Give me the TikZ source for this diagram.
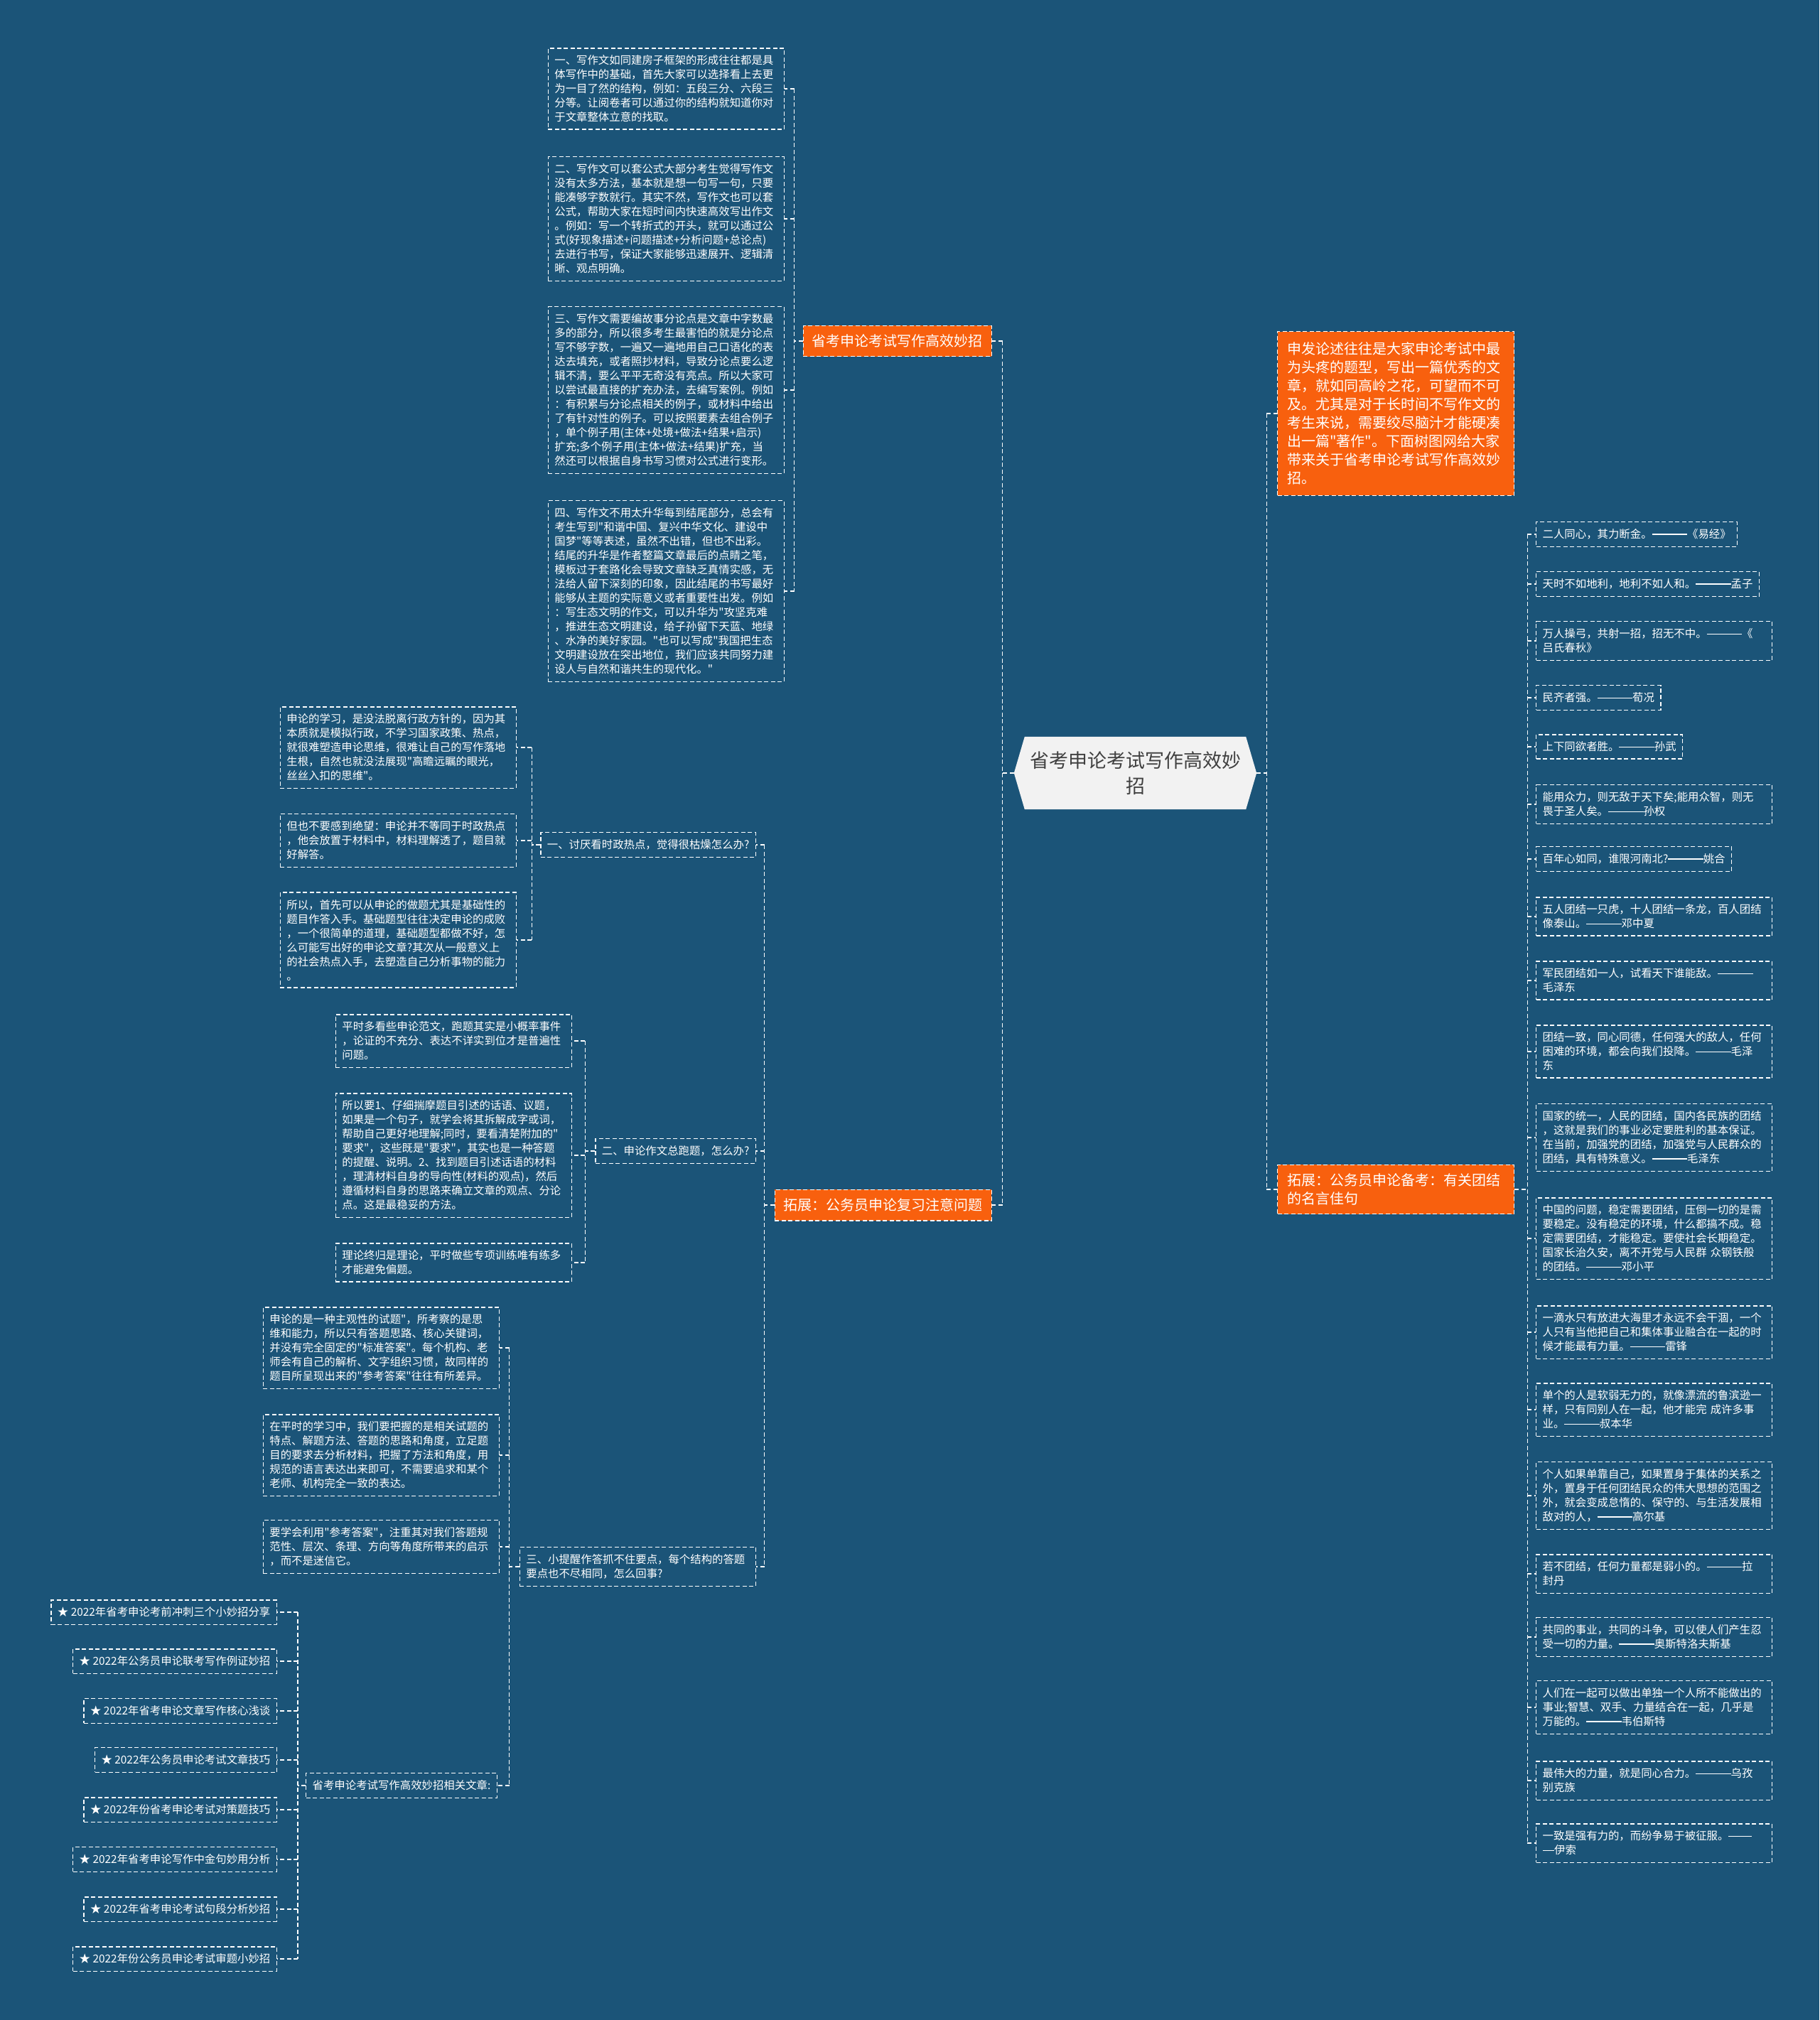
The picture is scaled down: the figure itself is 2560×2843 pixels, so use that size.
\documentclass[tikz,border=0pt]{standalone}
\usepackage{fontspec}
\setmainfont{Noto Sans CJK SC}[Ligatures=TeXOff]
\usetikzlibrary{calc,backgrounds}
\definecolor{bg}{HTML}{1B5478}
\definecolor{org}{HTML}{F8600E}
\definecolor{cfill}{HTML}{F2F2F2}
\definecolor{ctext}{HTML}{404040}
\newcommand\emd{\rule[0.33em]{1.07em}{0.08em}}
\tikzset{
 dl/.style={draw=white, line width=1.3pt, dash pattern=on 6pt off 3.5pt},
 conn/.style={draw=white, line width=1.3pt, dash pattern=on 6pt off 3.5pt},
 para/.style={dl, text=white, font=\fontsize{15.4}{20}\selectfont, align=left, text width=314pt, inner xsep=9pt, inner ysep=10pt},
 one/.style={dl, text=white, font=\fontsize{15.4}{20}\selectfont, inner xsep=9pt, inner ysep=10pt},
 obox/.style={dl, fill=org, text=white, font=\fontsize{20}{26}\selectfont, inner xsep=12.5pt, inner ysep=12.5pt},
 obig/.style={obox, align=left, text width=306pt, inner xsep=13.5pt},
 hub/.style={text=ctext, font=\fontsize{27}{36}\selectfont, align=center, minimum width=341pt, minimum height=102pt, inner sep=0pt},
}
\begin{document}
\begin{tikzpicture}[x=1pt,y=-1pt]
\useasboundingbox (0,0) rectangle (2560,2843);

% center
\node[hub] (c) at (1597.5,1088) {省考申论考试写作高效妙\\招};
\begin{scope}[on background layer]
\fill[bg] (0,0) rectangle (2560,2843);
\fill[cfill] (c.west) -- ($(c.north west)+(15,0)$) -- ($(c.north east)+(-15,0)$) -- (c.east) -- ($(c.south east)+(-15,0)$) -- ($(c.south west)+(15,0)$) -- cycle;
\end{scope}

% main branches
\node[obox, anchor=east] (o1) at (1396,480) {省考申论考试写作高效妙招};
\node[obox, anchor=east] (o2) at (1396,1696) {拓展：公务员申论复习注意问题};
\node[obig, inner ysep=15pt, anchor=west] (o3) at (1797,582) {申发论述往往是大家申论考试中最\\为头疼的题型，写出一篇优秀的文\\章，就如同高岭之花，可望而不可\\及。尤其是对于长时间不写作文的\\考生来说，需要绞尽脑汁才能硬凑\\出一篇"著作"。下面树图网给大家\\带来关于省考申论考试写作高效妙\\招。};
\node[obig, anchor=west] (o4) at (1797,1674) {拓展：公务员申论备考：有关团结\\的名言佳句};

% branch 1 children
\node[para, anchor=east] (a1) at (1104,125) {一、写作文如同建房子框架的形成往往都是具\\体写作中的基础，首先大家可以选择看上去更\\为一目了然的结构，例如：五段三分、六段三\\分等。让阅卷者可以通过你的结构就知道你对\\于文章整体立意的找取。};
\node[para, anchor=east] (a2) at (1104,308) {二、写作文可以套公式大部分考生觉得写作文\\没有太多方法，基本就是想一句写一句，只要\\能凑够字数就行。其实不然，写作文也可以套\\公式，帮助大家在短时间内快速高效写出作文\\。例如：写一个转折式的开头，就可以通过公\\式(好现象描述+问题描述+分析问题+总论点)\\去进行书写，保证大家能够迅速展开、逻辑清\\晰、观点明确。};
\node[para, anchor=east] (a3) at (1104,549) {三、写作文需要编故事分论点是文章中字数最\\多的部分，所以很多考生最害怕的就是分论点\\写不够字数，一遍又一遍地用自己口语化的表\\达去填充，或者照抄材料，导致分论点要么逻\\辑不清，要么平平无奇没有亮点。所以大家可\\以尝试最直接的扩充办法，去编写案例。例如\\：有积累与分论点相关的例子，或材料中给出\\了有针对性的例子。可以按照要素去组合例子\\，单个例子用(主体+处境+做法+结果+启示)\\扩充;多个例子用(主体+做法+结果)扩充，当\\然还可以根据自身书写习惯对公式进行变形。};
\node[para, anchor=east] (a4) at (1104,832) {四、写作文不用太升华每到结尾部分，总会有\\考生写到"和谐中国、复兴中华文化、建设中\\国梦"等等表述，虽然不出错，但也不出彩。\\结尾的升华是作者整篇文章最后的点睛之笔，\\模板过于套路化会导致文章缺乏真情实感，无\\法给人留下深刻的印象，因此结尾的书写最好\\能够从主题的实际意义或者重要性出发。例如\\：写生态文明的作文，可以升华为"攻坚克难\\，推进生态文明建设，给子孙留下天蓝、地绿\\、水净的美好家园。"也可以写成"我国把生态\\文明建设放在突出地位，我们应该共同努力建\\设人与自然和谐共生的现代化。"};

% branch 2 questions
\node[one, anchor=east] (q1) at (1064,1189) {一、讨厌看时政热点，觉得很枯燥怎么办?};
\node[one, anchor=east] (q2) at (1064,1620) {二、申论作文总跑题，怎么办?};
\node[para, anchor=east] (q3) at (1064,2205) {三、小提醒作答抓不住要点，每个结构的答题\\要点也不尽相同，怎么回事?};

\node[para, anchor=east] (c11) at (727,1052) {申论的学习，是没法脱离行政方针的，因为其\\本质就是模拟行政，不学习国家政策、热点，\\就很难塑造申论思维，很难让自己的写作落地\\生根，自然也就没法展现"高瞻远瞩的眼光，\\丝丝入扣的思维"。};
\node[para, anchor=east] (c12) at (727,1183) {但也不要感到绝望：申论并不等同于时政热点\\，他会放置于材料中，材料理解透了，题目就\\好解答。};
\node[para, anchor=east] (c13) at (727,1323) {所以，首先可以从申论的做题尤其是基础性的\\题目作答入手。基础题型往往决定申论的成败\\，一个很简单的道理，基础题型都做不好，怎\\么可能写出好的申论文章?其次从一般意义上\\的社会热点入手，去塑造自己分析事物的能力\\。};

\node[para, anchor=east] (c21) at (805,1465) {平时多看些申论范文，跑题其实是小概率事件\\，论证的不充分、表达不详实到位才是普遍性\\问题。};
\node[para, anchor=east] (c22) at (805,1626) {所以要1、仔细揣摩题目引述的话语、议题，\\如果是一个句子，就学会将其拆解成字或词，\\帮助自己更好地理解;同时，要看清楚附加的"\\要求"，这些既是"要求"，其实也是一种答题\\的提醒、说明。2、找到题目引述话语的材料\\，理清材料自身的导向性(材料的观点)，然后\\遵循材料自身的思路来确立文章的观点、分论\\点。这是最稳妥的方法。};
\node[para, anchor=east] (c23) at (805,1777) {理论终归是理论，平时做些专项训练唯有练多\\才能避免偏题。};

\node[para, anchor=east] (c31) at (703,1897) {申论的是一种主观性的试题"，所考察的是思\\维和能力，所以只有答题思路、核心关键词，\\并没有完全固定的"标准答案"。每个机构、老\\师会有自己的解析、文字组织习惯，故同样的\\题目所呈现出来的"参考答案"往往有所差异。};
\node[para, anchor=east] (c32) at (703,2048) {在平时的学习中，我们要把握的是相关试题的\\特点、解题方法、答题的思路和角度，立足题\\目的要求去分析材料，把握了方法和角度，用\\规范的语言表达出来即可，不需要追求和某个\\老师、机构完全一致的表达。};
\node[para, anchor=east] (c33) at (703,2177) {要学会利用"参考答案"，注重其对我们答题规\\范性、层次、条理、方向等角度所带来的启示\\，而不是迷信它。};
\node[one, anchor=east] (q4) at (700,2513) {省考申论考试写作高效妙招相关文章:};

\node[one, anchor=east] (s1) at (390,2269) {★ 2022年省考申论考前冲刺三个小妙招分享};
\node[one, anchor=east] (s2) at (390,2338) {★ 2022年公务员申论联考写作例证妙招};
\node[one, anchor=east] (s3) at (390,2408) {★ 2022年省考申论文章写作核心浅谈};
\node[one, anchor=east] (s4) at (390,2477) {★ 2022年公务员申论考试文章技巧};
\node[one, anchor=east] (s5) at (390,2547) {★ 2022年份省考申论考试对策题技巧};
\node[one, anchor=east] (s6) at (390,2617) {★ 2022年省考申论写作中金句妙用分析};
\node[one, anchor=east] (s7) at (390,2687) {★ 2022年省考申论考试句段分析妙招};
\node[one, anchor=east] (s8) at (390,2757) {★ 2022年份公务员申论考试审题小妙招};

% quotes
\node[one, anchor=west] (r1) at (2161,752) {二人同心，其力断金。\emd\emd\emd《易经》};
\node[one, anchor=west] (r2) at (2161,822) {天时不如地利，地利不如人和。\emd\emd\emd 孟子};
\node[para, anchor=west] (r3) at (2161,902) {万人操弓，共射一招，招无不中。\emd\emd\emd《\\吕氏春秋》};
\node[one, anchor=west] (r4) at (2161,982) {民齐者强。\emd\emd\emd 荀况};
\node[one, anchor=west] (r5) at (2161,1051) {上下同欲者胜。\emd\emd\emd 孙武};
\node[para, anchor=west] (r6) at (2161,1132) {能用众力，则无敌于天下矣;能用众智，则无\\畏于圣人矣。\emd\emd\emd 孙权};
\node[one, anchor=west] (r7) at (2161,1209) {百年心如同，谁限河南北?\emd\emd\emd 姚合};
\node[para, anchor=west] (r8) at (2161,1290) {五人团结一只虎，十人团结一条龙，百人团结\\像泰山。\emd\emd\emd 邓中夏};
\node[para, anchor=west] (r9) at (2161,1380) {军民团结如一人，试看天下谁能敌。\emd\emd\emd\\毛泽东};
\node[para, anchor=west] (r10) at (2161,1480) {团结一致，同心同德，任何强大的敌人，任何\\困难的环境，都会向我们投降。\emd\emd\emd 毛泽\\东};
\node[para, anchor=west] (r11) at (2161,1601) {国家的统一，人民的团结，国内各民族的团结\\，这就是我们的事业必定要胜利的基本保证。\\在当前，加强党的团结，加强党与人民群众的\\团结，具有特殊意义。\emd\emd\emd 毛泽东};
\node[para, anchor=west] (r12) at (2161,1743) {中国的问题，稳定需要团结，压倒一切的是需\\要稳定。没有稳定的环境，什么都搞不成。稳\\定需要团结，才能稳定。要使社会长期稳定。\\国家长治久安，离不开党与人民群 众钢铁般\\的团结。\emd\emd\emd 邓小平};
\node[para, anchor=west] (r13) at (2161,1875) {一滴水只有放进大海里才永远不会干涸，一个\\人只有当他把自己和集体事业融合在一起的时\\候才能最有力量。\emd\emd\emd 雷锋};
\node[para, anchor=west] (r14) at (2161,1984) {单个的人是软弱无力的，就像漂流的鲁滨逊一\\样，只有同别人在一起，他才能完 成许多事\\业。\emd\emd\emd 叔本华};
\node[para, anchor=west] (r15) at (2161,2105) {个人如果单靠自己，如果置身于集体的关系之\\外，置身于任何团结民众的伟大思想的范围之\\外，就会变成怠惰的、保守的、与生活发展相\\敌对的人，\emd\emd\emd 高尔基};
\node[para, anchor=west] (r16) at (2161,2215) {若不团结，任何力量都是弱小的。\emd\emd\emd 拉\\封丹};
\node[para, anchor=west] (r17) at (2161,2304) {共同的事业，共同的斗争，可以使人们产生忍\\受一切的力量。\emd\emd\emd 奥斯特洛夫斯基};
\node[para, anchor=west] (r18) at (2161,2403) {人们在一起可以做出单独一个人所不能做出的\\事业;智慧、双手、力量结合在一起，几乎是\\万能的。\emd\emd\emd 韦伯斯特};
\node[para, anchor=west] (r19) at (2161,2506) {最伟大的力量，就是同心合力。\emd\emd\emd 乌孜\\别克族};
\node[para, anchor=west] (r20) at (2161,2594) {一致是强有力的，而纷争易于被征服。\emd\emd\\\emd 伊索};

% connectors: center left
\draw[conn] (c.west) -- ++(-16,0) coordinate (tl);
\draw[conn] (tl |- o1.east) -- (tl |- o2.east);
\foreach \n in {o1,o2} \draw[conn] (tl |- \n.east) -- (\n.east);
% center right
\draw[conn] (c.east) -- ++(14,0) coordinate (tr);
\draw[conn] (tr |- o3.west) -- (tr |- o4.west);
\foreach \n in {o3,o4} \draw[conn] (tr |- \n.west) -- (\n.west);
% branch 1
\draw[conn] (o1.west) -- ++(-12,0) coordinate (t1);
\draw[conn] (t1 |- a1.east) -- (t1 |- a4.east);
\foreach \n in {a1,a2,a3,a4} \draw[conn] (t1 |- \n.east) -- (\n.east);
% branch 2
\draw[conn] (o2.west) -- ++(-14,0) coordinate (t2);
\draw[conn] (t2 |- q1.east) -- (t2 |- q3.east);
\foreach \n in {q1,q2,q3} \draw[conn] (t2 |- \n.east) -- (\n.east);
% q1
\draw[conn] (q1.west) -- ++(-12,0) coordinate (tq1);
\draw[conn] (tq1 |- c11.east) -- (tq1 |- c13.east);
\foreach \n in {c11,c12,c13} \draw[conn] (tq1 |- \n.east) -- (\n.east);
% q2
\draw[conn] (q2.west) -- ++(-14,0) coordinate (tq2);
\draw[conn] (tq2 |- c21.east) -- (tq2 |- c23.east);
\foreach \n in {c21,c22,c23} \draw[conn] (tq2 |- \n.east) -- (\n.east);
% q3
\draw[conn] (q3.west) -- ++(-14,0) coordinate (tq3);
\draw[conn] (tq3 |- c31.east) -- (tq3 |- q4.east);
\foreach \n in {c31,c32,c33,q4} \draw[conn] (tq3 |- \n.east) -- (\n.east);
% q4
\draw[conn] (q4.west) -- ++(-11,0) coordinate (tq4);
\draw[conn] (tq4 |- s1.east) -- (tq4 |- s8.east);
\foreach \n in {s1,s2,s3,s4,s5,s6,s7,s8} \draw[conn] (tq4 |- \n.east) -- (\n.east);
% quotes
\draw[conn] (o4.east) -- ++(18,0) coordinate (t4);
\draw[conn] (t4 |- r1.west) -- (t4 |- r20.west);
\foreach \n in {r1,r2,r3,r4,r5,r6,r7,r8,r9,r10,r11,r12,r13,r14,r15,r16,r17,r18,r19,r20} \draw[conn] (t4 |- \n.west) -- (\n.west);
\end{tikzpicture}
\end{document}
